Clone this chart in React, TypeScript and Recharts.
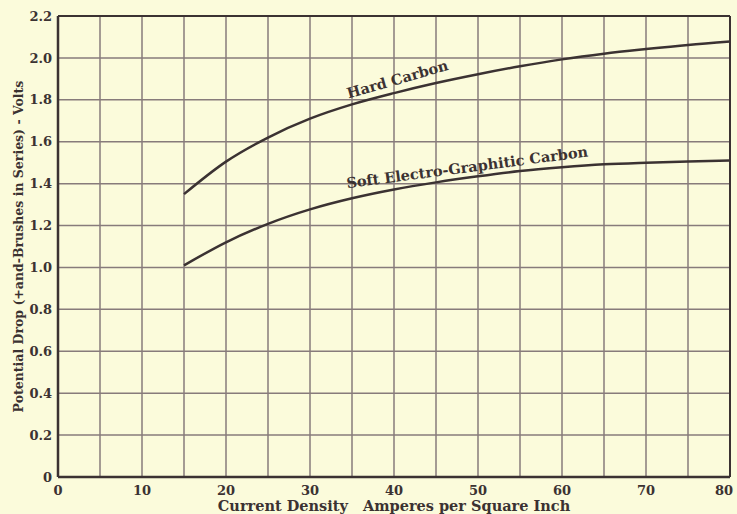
import { LineChart, Line, XAxis, YAxis, CartesianGrid, ReferenceLine, ReferenceDot } from "recharts";

const currentDensity = [15, 20, 25, 30, 35, 40, 45, 50, 55, 60, 65, 70, 75, 80];
const hardCarbon = [1.35, 1.505, 1.62, 1.71, 1.778, 1.832, 1.88, 1.922, 1.96, 1.993, 2.02, 2.042, 2.062, 2.078];
const softCarbon = [1.01, 1.12, 1.208, 1.277, 1.33, 1.372, 1.406, 1.435, 1.46, 1.478, 1.492, 1.5, 1.506, 1.51];

const xTicks = [0, 10, 20, 30, 40, 50, 60, 70, 80];
const xMinorGrid = [5, 15, 25, 35, 45, 55, 65, 75];
const yTicks = [0, 0.2, 0.4, 0.6, 0.8, 1.0, 1.2, 1.4, 1.6, 1.8, 2.0, 2.2];

const BG = "#fbfbdb";
const INK = "#3b3232";
const GRID = "#877b7b";
const FONT = "'DejaVu Serif', serif";

const data = currentDensity.map((x, i) => ({ x, hard: hardCarbon[i], soft: softCarbon[i] }));

function curveLabel(text: string, angle: number, size: number) {
    return (props: any) => (
        <text
            x={props.cx}
            y={props.cy}
            transform={`rotate(${angle} ${props.cx} ${props.cy})`}
            textAnchor="middle"
            dominantBaseline="central"
            fontFamily={FONT}
            fontWeight="bold"
            fontSize={size}
            fill={INK}
        >
            {text}
        </text>
    );
}

// last tick sits at the page edge, pull it in a little
function XTick(props: any) {
    const { x, y, payload } = props;
    const shift = payload.value === 80 ? -5 : 0;
    return (
        <text x={x + shift} y={y + 15} textAnchor="middle" fontFamily={FONT} fontWeight="bold" fontSize={13} fill={INK}>
            {payload.value}
        </text>
    );
}

export default function App() {
    const tickStyle = { fill: INK, fontSize: 13, fontFamily: FONT, fontWeight: "bold" };
    return (
        <div style={{ position: "absolute", left: 0, top: 0, width: 737, height: 514, background: BG }}>
            <LineChart width={737} height={514} data={data} margin={{ top: 16, right: 7, bottom: 0, left: 0 }}>
                <CartesianGrid stroke={GRID} strokeWidth={1.5} />
                {xMinorGrid.map((v) => (
                    <ReferenceLine key={v} x={v} stroke={GRID} strokeWidth={1.5} />
                ))}
                <ReferenceLine y={2.2} stroke={INK} strokeWidth={2} />
                <ReferenceLine x={80} stroke={INK} strokeWidth={2} />
                <XAxis
                    dataKey="x"
                    type="number"
                    domain={[0, 80]}
                    ticks={xTicks}
                    height={37}
                    tickSize={0}
                    tickMargin={3}
                    axisLine={{ stroke: INK, strokeWidth: 2.5 }}
                    tick={<XTick />}
                    label={{
                        content: ({ viewBox }: any) => (
                            <text
                                x={viewBox.x + viewBox.width / 2}
                                y={viewBox.y + 28}
                                textAnchor="middle"
                                dominantBaseline="central"
                                fontFamily={FONT}
                                fontWeight="bold"
                                fontSize={14.5}
                                fill={INK}
                                style={{ whiteSpace: "pre" }}
                            >
                                {"Current Density   Amperes per Square Inch"}
                            </text>
                        ),
                    }}
                />
                <YAxis
                    type="number"
                    domain={[0, 2.2]}
                    ticks={yTicks}
                    width={58}
                    tickSize={0}
                    tickMargin={6}
                    axisLine={{ stroke: INK, strokeWidth: 2.5 }}
                    tick={tickStyle}
                    tickFormatter={(v: number) => (v === 0 ? "0" : v.toFixed(1))}
                    label={{
                        content: ({ viewBox }: any) => (
                            <text
                                x={18}
                                y={viewBox.y + viewBox.height / 2}
                                transform={`rotate(-90 18 ${viewBox.y + viewBox.height / 2})`}
                                textAnchor="middle"
                                dominantBaseline="central"
                                fontFamily={FONT}
                                fontWeight="bold"
                                fontSize={12.5}
                                fill={INK}
                            >
                                Potential Drop (+and-Brushes in Series) - Volts
                            </text>
                        ),
                    }}
                />
                <Line type="monotone" dataKey="hard" stroke={INK} strokeWidth={2.5} dot={false} isAnimationActive={false} />
                <Line type="monotone" dataKey="soft" stroke={INK} strokeWidth={2.5} dot={false} isAnimationActive={false} />
                <ReferenceDot x={40.4} y={1.9} r={0} shape={curveLabel("Hard Carbon", -16, 14.5)} />
                <ReferenceDot x={48.7} y={1.48} r={0} shape={curveLabel("Soft Electro-Graphitic Carbon", -7.5, 14.5)} />
            </LineChart>
        </div>
    );
}
